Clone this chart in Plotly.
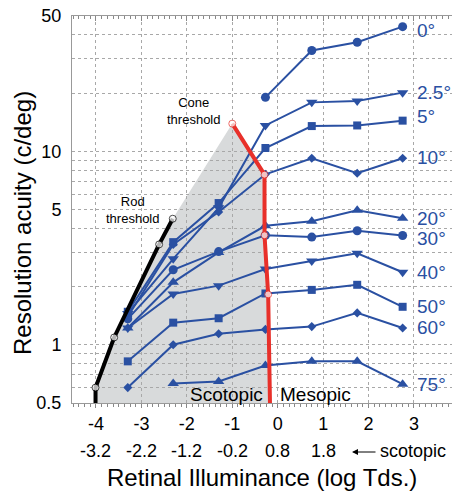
import math
import plotly.graph_objects as go

# ---------------- data ----------------
lum_x = [-3.3, -2.3, -1.3, -0.27, 0.75, 1.75, 2.75]          # log photopic Tds
ecc_labels = ['0°', '2.5°', '5°', '10°', '20°', '30°', '40°', '50°', '60°', '75°']
acuity_0 = [19.0, 33.2, 36.6, 44.1]                            # starts at -0.27
acuity_2_5 = [1.45, 2.78, 5.1, 13.6, 17.9, 18.2, 20.1]
acuity_5 = [1.48, 3.39, 5.4, 10.4, 13.5, 13.6, 14.4]
acuity_10 = [1.40, 3.3, 4.85, 7.6, 9.2, 7.7, 9.2]
acuity_20 = [1.22, 2.1, 3.0, 4.12, 4.35, 4.95, 4.5]
acuity_30 = [1.36, 2.44, 3.03, 3.68, 3.6, 3.88, 3.67]
acuity_40 = [1.22, 1.83, 2.02, 2.46, 2.71, 2.97, 2.37]
acuity_50 = [0.82, 1.30, 1.37, 1.84, 1.92, 2.04, 1.57]
acuity_60 = [0.60, 1.0, 1.14, 1.2, 1.24, 1.46, 1.22]
acuity_75 = [0.63, 0.645, 0.78, 0.82, 0.82, 0.625]            # starts at -2.3

rod_x = [-4.01, -4.01, -3.6, -2.61, -2.31]
rod_y = [0.5, 0.6, 1.09, 3.3, 4.48]
cone_x = [-1.0, -0.29, -0.29, -0.21, -0.17]
cone_y = [13.9, 7.57, 3.68, 1.82, 0.5]

photopic_ticks = [-4, -3, -2, -1, 0, 1, 2, 3]
scotopic_ticks = ['-3.2', '-2.2', '-1.2', '-0.2', '0.8', '1.8']
y_ticks = [0.5, 1, 5, 10, 50]
y_minor = [0.6, 0.7, 0.8, 0.9, 2, 3, 4, 6, 7, 8, 9, 20, 30, 40]

# ---------------- styling ----------------
BLUE = '#2a50a2'
RED = '#e8302a'
GRAY_FILL = '#d8dadb'
GRID = '#a8a8a8'
FONT = 'Liberation Sans, Arial, Helvetica, sans-serif'

W, H = 452, 491
L, R, T, B = 72, 0, 16, 88
PW, PH = W - L - R, H - T - B


def px(xp):
    return (xp - L) / PW


def py(yp):
    return (T + PH - yp) / PH


series = [
    (lum_x[3:], acuity_0, 'circle', 9),
    (lum_x, acuity_2_5, 'triangle-down', 10),
    (lum_x, acuity_5, 'square', 8),
    (lum_x, acuity_10, 'diamond', 7),
    (lum_x, acuity_20, 'triangle-up', 10),
    (lum_x, acuity_30, 'circle', 9),
    (lum_x, acuity_40, 'triangle-down', 10),
    (lum_x, acuity_50, 'square', 8),
    (lum_x, acuity_60, 'diamond', 7),
    (lum_x[1:], acuity_75, 'triangle-up', 10),
]
label_shift = [-4, 0, 4, 1, 0, -3, 0, 0, 0, 0]

fig = go.Figure()

# gray scotopic region (shape under the grid)
poly_x = rod_x + cone_x
poly_y = rod_y + cone_y
path = 'M ' + ' L '.join(f'{x},{y}' for x, y in zip(poly_x, poly_y)) + ' Z'
fig.add_shape(type='path', path=path, xref='x', yref='y', layer='below',
              fillcolor=GRAY_FILL, line=dict(width=0))

for (xs, ys, sym, sz), lab, sh in zip(series, ecc_labels, label_shift):
    fig.add_trace(go.Scatter(
        x=xs, y=ys, mode='lines+markers', name=lab,
        line=dict(color=BLUE, width=2),
        marker=dict(symbol=sym, size=sz, color=BLUE, line=dict(width=0)),
        showlegend=False, hoverinfo='skip'))
    fig.add_annotation(x=xs[-1], y=math.log10(ys[-1]), xref='x', yref='y',
                       text=lab, showarrow=False, xanchor='left', yanchor='middle',
                       xshift=12, yshift=sh,
                       font=dict(family=FONT, size=19, color=BLUE))

# rod threshold
fig.add_trace(go.Scatter(
    x=rod_x, y=rod_y, mode='lines+markers',
    line=dict(color='black', width=4),
    marker=dict(symbol='circle', size=[0, 7, 7, 7, 7], color='white',
                line=dict(color='black', width=1)),
    showlegend=False, hoverinfo='skip'))
# cone threshold
fig.add_trace(go.Scatter(
    x=cone_x, y=cone_y, mode='lines+markers',
    line=dict(color=RED, width=4),
    marker=dict(symbol='circle', size=[7, 7, 7, 7, 0], color='white',
                line=dict(color=RED, width=1)),
    showlegend=False, hoverinfo='skip'))

# dummy trace for the top axis
fig.add_trace(go.Scatter(x=[None], y=[None], xaxis='x2', yaxis='y',
                         showlegend=False, hoverinfo='skip'))

xr = [(L - 277.7) / 45.43, (W - R - 277.7) / 45.43]

fig.update_layout(
    width=W, height=H,
    margin=dict(l=L, r=R, t=T, b=B, pad=0),
    paper_bgcolor='white', plot_bgcolor='white',
    font=dict(family=FONT, color='black'),
    xaxis=dict(
        range=xr, tickvals=photopic_ticks,
        ticktext=[str(v) for v in photopic_ticks],
        tickfont=dict(size=18, color='black'),
        ticks='outside', ticklen=4, tickcolor='#888', tickwidth=1,
        showline=True, linecolor='#999', linewidth=1,
        showgrid=True, gridcolor=GRID, griddash='dot', gridwidth=1,
        zeroline=False,
        minor=dict(dtick=0.125, ticks='outside', ticklen=3, tickcolor='#888',
                   showgrid=False),
        ticklabelstandoff=0,
    ),
    xaxis2=dict(
        range=xr, overlaying='x', side='top', tickvals=photopic_ticks,
        showticklabels=False, ticks='inside', ticklen=5, tickcolor='#888',
        showline=True, linecolor='#999', linewidth=1, showgrid=False,
        zeroline=False,
        minor=dict(dtick=0.125, ticks='inside', ticklen=3, tickcolor='#888',
                   showgrid=False),
    ),
    yaxis=dict(
        type='log', range=[math.log10(0.4995), math.log10(50.05)],
        tickvals=y_ticks, ticktext=[str(v) for v in y_ticks],
        tickfont=dict(size=18, color='black'),
        ticks='', showline=True, linecolor='#999', linewidth=1,
        showgrid=True, gridcolor=GRID, griddash='dot', gridwidth=1,
        zeroline=False, ticklabelstandoff=6,
        minor=dict(tickvals=y_minor, showgrid=True, gridcolor=GRID,
                   griddash='dot', gridwidth=1, ticks=''),
    ),
)

# second row of x tick labels (scotopic Tds)
for v, t in zip(photopic_ticks, scotopic_ticks):
    fig.add_annotation(x=v, y=py(451), xref='x', yref='paper', text=t,
                       showarrow=False, xanchor='center', yanchor='middle',
                       font=dict(family=FONT, size=18, color='black'))
fig.add_annotation(x=px(378), y=py(451), xref='paper', yref='paper',
                   text='scotopic', showarrow=False, xanchor='left', yanchor='middle',
                   font=dict(family=FONT, size=18, color='black'))
fig.add_annotation(x=px(352), y=py(452), ax=25, ay=0,
                   xref='paper', yref='paper', axref='pixel', ayref='pixel',
                   text='', showarrow=True, arrowhead=2, arrowsize=1.2,
                   arrowwidth=1, arrowcolor='black')

# axis titles
fig.add_annotation(x=0.5, y=py(477), xref='paper', yref='paper',
                   text='Retinal Illuminance (log Tds.)', showarrow=False,
                   xanchor='center', yanchor='middle',
                   font=dict(family=FONT, size=24, color='black'))
fig.add_annotation(x=px(22), y=py(223), xref='paper', yref='paper',
                   text='Resolution acuity (c/deg)', showarrow=False, textangle=-90,
                   xanchor='center', yanchor='middle',
                   font=dict(family=FONT, size=24, color='black'))

# in-plot text
for txt, xp, yp, sz in [('Cone<br>threshold', 193, 111, 13),
                        ('Rod<br>threshold', 132, 210, 13),
                        ('Scotopic', 226, 394, 19), ('Mesopic', 315, 394, 19)]:
    fig.add_annotation(x=px(xp), y=py(yp), xref='paper', yref='paper', text=txt,
                       showarrow=False, xanchor='center', yanchor='middle',
                       font=dict(family=FONT, size=sz, color='black'))

fig.write_html('out.html', config={'displayModeBar': False},
               post_script="document.body.style.margin='0';")
